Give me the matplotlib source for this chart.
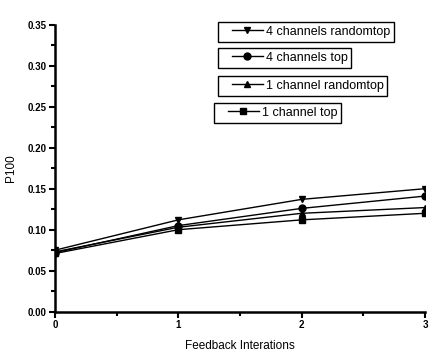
import matplotlib
matplotlib.use("Agg")
import matplotlib.pyplot as plt
from matplotlib.ticker import MultipleLocator, FormatStrFormatter
from matplotlib.legend_handler import HandlerLine2D

plt.rcParams['font.family'] = ['Liberation Sans', 'DejaVu Sans']

iterations = [0, 1, 2, 3]
series_names = ["4 channels randomtop", "4 channels top", "1 channel randomtop", "1 channel top"]
four_ch_randomtop = [0.075, 0.112, 0.137, 0.150]
four_ch_top = [0.072, 0.105, 0.126, 0.141]
one_ch_randomtop = [0.073, 0.103, 0.120, 0.127]
one_ch_top = [0.071, 0.100, 0.112, 0.120]
series_values = [four_ch_randomtop, four_ch_top, one_ch_randomtop, one_ch_top]
markers = ["v", "o", "^", "s"]

fig = plt.figure(figsize=(4.34, 3.52), dpi=100)
ax = fig.add_axes([55/434, 1-311.7/352, (425-55)/434, (311.7-24.7)/352])

lines = []
for name, vals, m in zip(series_names, series_values, markers):
    ln, = ax.plot(iterations, vals, color='black', linewidth=1.0, marker=m,
                  markersize=5, label=name)
    lines.append(ln)

ax.set_xlim(0, 3)
ax.set_ylim(0, 0.35)
ax.xaxis.set_major_locator(MultipleLocator(1))
ax.xaxis.set_minor_locator(MultipleLocator(0.5))
ax.yaxis.set_major_locator(MultipleLocator(0.05))
ax.yaxis.set_minor_locator(MultipleLocator(0.025))
ax.yaxis.set_major_formatter(FormatStrFormatter('%.2f'))
ax.xaxis.set_major_formatter(FormatStrFormatter('%d'))

for s in ['top', 'right']:
    ax.spines[s].set_visible(False)
for s in ['left', 'bottom']:
    ax.spines[s].set_linewidth(1.8)

ax.tick_params(which='major', direction='out', length=4, width=1.5, labelsize=7, pad=2)
ax.tick_params(which='minor', direction='out', length=3, width=1.5)
for lab in ax.get_xticklabels() + ax.get_yticklabels():
    lab.set_fontweight('bold')

ax.set_xlabel("Feedback Interations", fontsize=8.5, labelpad=7)
ax.set_ylabel("P100", fontsize=8.5, labelpad=8)

# separate boxed legend entries
anchors = [(218/434, 1-22/352), (218/434, 1-48/352), (218/434, 1-76/352), (214/434, 1-103/352)]
for ln, anc in zip(lines, anchors):
    leg = fig.legend(handles=[ln], loc='upper left', bbox_to_anchor=anc,
                     bbox_transform=fig.transFigure, fontsize=9, frameon=True,
                     fancybox=False, borderpad=0.3, borderaxespad=0,
                     handlelength=3.3, handletextpad=0.2, numpoints=1,
                     markerscale=1.0,
                     handler_map={ln: HandlerLine2D(xpad=0.8)})
    fr = leg.get_frame()
    fr.set_edgecolor('black')
    fr.set_linewidth(1.0)
    fr.set_alpha(1)

fig.savefig("out.png", dpi=100)
